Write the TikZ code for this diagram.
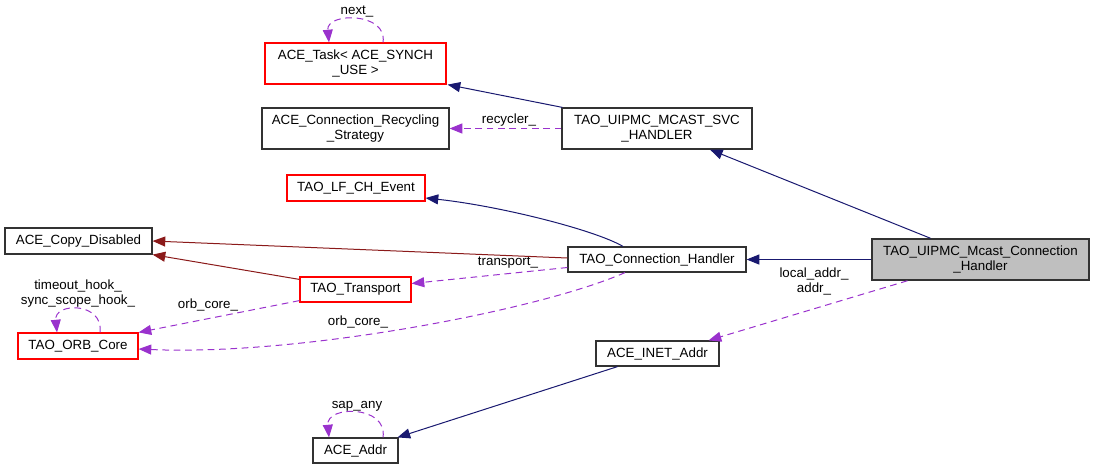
\documentclass[tikz,border=0pt]{standalone}
\usepackage{fontspec}
\setmainfont{Liberation Sans}
\usetikzlibrary{arrows.meta}
\definecolor{navyc}{RGB}{25,25,112}
\definecolor{darkredc}{RGB}{139,26,26}
\definecolor{purplec}{RGB}{154,50,205}
\definecolor{boxgray}{RGB}{50,50,50}
\definecolor{fillgray}{RGB}{191,191,191}
\begin{document}
\begin{tikzpicture}[x=0.75pt,y=-0.75pt,
  every node/.style={font=\fontsize{10}{11.25}\selectfont},
  box/.style={draw=boxgray,line width=0.9pt,inner sep=0pt,align=center,fill=white},
  redbox/.style={box,draw=red},
  lbl/.style={inner sep=0pt,align=center},
  inh/.style={draw=navyc,line width=0.75pt,-{Triangle[length=9.5pt,width=7.5pt,fill=navyc]}},
  priv/.style={draw=darkredc,line width=0.75pt,-{Triangle[length=9.5pt,width=7.5pt,fill=darkredc]}},
  use/.style={draw=purplec,line width=0.75pt,dash pattern=on 5pt off 3.5pt,-{Triangle[length=9.5pt,width=7.5pt,fill=purplec]}},
]
\useasboundingbox (0,0) rectangle (1093,469);
% nodes
\node[redbox,minimum width=135.75pt,minimum height=30.75pt] (task) at (355.5,63.5) {ACE\_Task< ACE\_SYNCH\\\_USE >};
\node[box,minimum width=140.25pt,minimum height=30.75pt] (recyc) at (355.5,128.5) {ACE\_Connection\_Recycling\\\_Strategy};
\node[box,minimum width=142.5pt,minimum height=30.75pt] (svc) at (657,128.5) {TAO\_UIPMC\_MCAST\_SVC\\\_HANDLER};
\node[redbox,minimum width=103.5pt,minimum height=19.5pt] (lfch) at (356,188) {TAO\_LF\_CH\_Event};
\node[box,minimum width=110.25pt,minimum height=19.5pt] (copy) at (78.5,241) {ACE\_Copy\_Disabled};
\node[redbox,minimum width=83.25pt,minimum height=18.75pt] (transport) at (355.5,289.5) {TAO\_Transport};
\node[redbox,minimum width=90pt,minimum height=19.5pt] (orb) at (78,346) {TAO\_ORB\_Core};
\node[box,minimum width=133.5pt,minimum height=18.75pt] (conn) at (657,259.5) {TAO\_Connection\_Handler};
\node[box,fill=fillgray,line width=1.1pt,minimum width=162.75pt,minimum height=30.75pt] (mcast) at (980.5,259.5) {TAO\_UIPMC\_Mcast\_Connection\\\_Handler};
\node[box,minimum width=92.25pt,minimum height=18.75pt] (inet) at (657.5,353.5) {ACE\_INET\_Addr};
\node[box,minimum width=63.75pt,minimum height=18.75pt] (addr) at (355.5,450.5) {ACE\_Addr};
% labels
\node[lbl] (lnext) at (357,12) {next\_};
\node[lbl] (lrecyc) at (509,120) {recycler\_};
\node[lbl] (ltrans) at (508,263) {transport\_};
\node[lbl] (lorb1) at (208,305) {orb\_core\_};
\node[lbl] (lorb2) at (358,322) {orb\_core\_};
\node[lbl] (lhook) at (78,294) {timeout\_hook\_\\sync\_scope\_hook\_};
\node[lbl] (laddr) at (814,281.5) {local\_addr\_\\addr\_};
\node[lbl] (lsap) at (357,406) {sap\_any};
% edges
\draw[inh] ([shift={(1,0)}]svc.north west) -- ([shift={(1,0)}]task.south east);
\draw[inh] ([shift={(-50,0)}]mcast.north) -- ([shift={(53,0)}]svc.south);
\draw[inh] (mcast.west) -- (conn.east);
\draw[inh] ([shift={(-34,0)}]conn.north) .. controls (595,230) and (500,206) .. ([shift={(0,10)}]lfch.east);
\draw[inh] ([shift={(-40,0)}]inet.south) -- ([shift={(42,0)}]addr.north);
\draw[priv] ([shift={(0,-1.5)}]conn.west) -- (copy.east);
\draw[priv] ([shift={(0,3)}]transport.north west) -- (copy.south east);
\draw[use] (svc.west |- recyc.east) -- (recyc.east);
\draw[use] ([shift={(0,8)}]conn.west) -- ([shift={(0,-6)}]transport.east);
\draw[use] ([shift={(0,-2)}]transport.south west) -- (orb.north east);
\draw[use] ([shift={(-32,0)}]conn.south) .. controls (540,310) and (300,356) .. ([shift={(0,3)}]orb.east);
\draw[use] ([shift={(-73,0)}]mcast.south) -- ([shift={(-11,0)}]inet.north east);
\draw[use] ([shift={(27.5,0)}]task.north) .. controls (388,12) and (326,12) .. ([shift={(-26.5,0)}]task.north);
\draw[use] ([shift={(22,0)}]orb.north) .. controls (104,302) and (54,302) .. ([shift={(-21,0)}]orb.north);
\draw[use] ([shift={(27.5,0)}]addr.north) .. controls (388,405) and (326,405) .. ([shift={(-26.5,0)}]addr.north);
\end{tikzpicture}
\end{document}
